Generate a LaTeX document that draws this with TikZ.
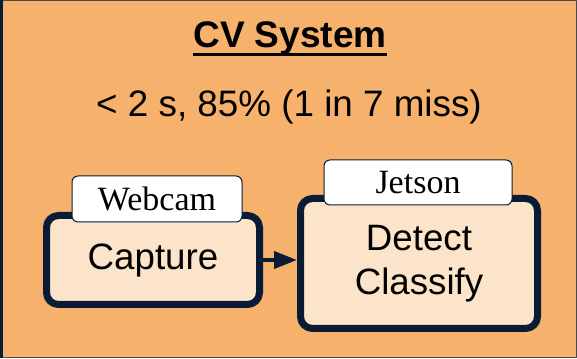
\documentclass[tikz,border=0pt]{standalone}
\usepackage{fontspec}
\setmainfont{Liberation Sans}
\newfontfamily\tabfont{Liberation Serif}
\usetikzlibrary{arrows.meta,positioning}
\definecolor{bgorange}{HTML}{F6B16C}
\definecolor{boxfill}{HTML}{FCE4CA}
\definecolor{navy}{HTML}{0A1B36}
\definecolor{edgegray}{HTML}{4A4A4A}
\begin{document}
\begin{tikzpicture}[x=1pt, y=1pt, line join=round,
			stagebox/.style={draw=navy, line width=7pt, fill=boxfill, rounded corners=12pt,
				align=center, font=\fontsize{36.7}{44}\selectfont, inner sep=0pt},
			tabbox/.style={draw=navy, line width=1pt, fill=white, rounded corners=6pt,
				font=\tabfont\fontsize{34}{38}\selectfont, inner sep=0pt},
			flow/.style={draw=navy, line width=4pt, -{Triangle[length=23pt,width=17pt]}}]
			\def \W{577}
			\def \H{358}
			\useasboundingbox (0,0) rectangle (\W,\H);
			\fill[bgorange] (0,0) rectangle (\W,\H);
			\fill[navy] (0,0) rectangle (3,\H);
			\draw[edgegray, line width=1pt] (3,\H-0.5) -- (\W-0.5,\H-0.5) -- (\W-0.5,0.5) -- (3,0.5);
			\node[anchor=base, inner sep=0pt, font=\bfseries\fontsize{37}{44}\selectfont] (title) at (290,310)
				{CV System};
			\draw[line width=3pt] ([yshift=-6.5pt]title.base west) -- ([yshift=-6.5pt]title.base east);
			\node[anchor=base, inner sep=0pt, font=\fontsize{36.8}{44}\selectfont] (spec) at (289,241)
				{< 2 s, 85\% (1 in 7 miss)};
			\node[stagebox, minimum width=213pt, minimum height=89pt] (capture) at (153,98) {Capture};
			\node[stagebox, minimum width=237pt, minimum height=130pt] (jetson) at (419,94.5)
				{Detect\\Classify};
			\node[tabbox, minimum width=170pt, minimum height=46pt] (webcam) at (157,159) {Webcam};
			\node[tabbox, minimum width=188pt, minimum height=45pt] (jetsontab) at (418,175.5) {Jetson};
			\draw[flow] (capture.east) -- (capture.east -| jetson.west);
		\end{tikzpicture}
\end{document}
